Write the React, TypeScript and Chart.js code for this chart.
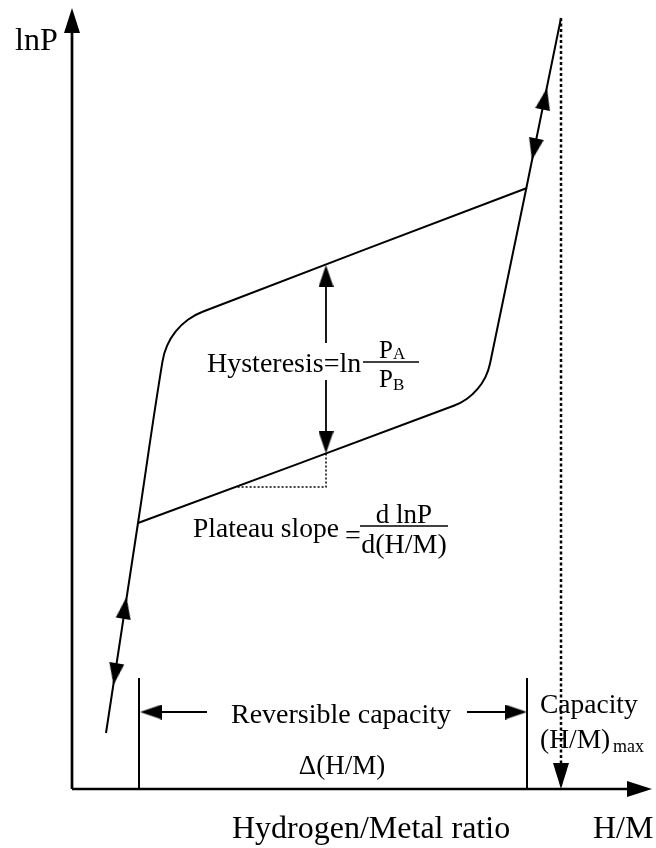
import React, { useEffect, useRef } from 'react';
import { Chart, registerables } from 'chart.js';

Chart.register(...registerables);

// ---- Data (H/M ratio on x, lnP on y, arbitrary schematic units) ----
// Absorption branch: alpha-phase rise, rounded knee, upper plateau
const absorptionHM = [0.068, 0.132, 0.1809, 0.1902, 0.2074, 0.2318, 0.2612, 0.91];
const absorptionLnP = [0.56, 2.66, 4.274, 4.434, 4.577, 4.693, 4.772, 6.01];
// Desorption branch: lower plateau, rounded knee, beta-phase rise
const desorptionHM = [0.132, 0.7634, 0.7894, 0.8108, 0.8268, 0.8362, 0.978];
const desorptionLnP = [2.66, 3.832, 3.9, 3.998, 4.119, 4.257, 7.71];

// Axes
const yAxisHM = [0, 0];
const yAxisLnP = [0, 7.62];
const xAxisHM = [0, 1.13];
const xAxisLnP = [0, 0];

// Hysteresis double arrow (between plateaus) and fraction bar
const hystHM = [0.508, 0.508];
const hystUpperLnP = [5.14, 4.46];
const hystLowerLnP = [4.09, 3.46];
const hystBarHM = [0.582, 0.694];
const hystBarLnP = [4.27, 4.27];

// Plateau slope triangle (dotted)
const slopeHM = [0.508, 0.508, 0.328];
const slopeLnP = [3.356, 3.02, 3.02];
const slopeBarHM = [0.576, 0.752];
const slopeBarLnP = [2.63, 2.63];

// Reversible capacity markers
const revLeftHM = [0.134, 0.134];
const revRightHM = [0.91, 0.91];
const revMarkLnP = [0, 1.11];
const revArrowLeftHM = [0.16, 0.27];
const revArrowRightHM = [0.79, 0.89];
const revArrowLnP = [0.77, 0.77];

// Maximum capacity dotted line
const capHM = [0.978, 0.978];
const capLnP = [7.71, 0.2];

// Arrow heads (tip position + direction, degrees clockwise from up)
const curveArrowHM = [0.95, 0.92, 0.109, 0.083, 0.508, 0.508, 0.136, 0.91];
const curveArrowLnP = [7.01, 6.29, 1.92, 1.04, 5.24, 3.356, 0.77, 0.77];
const curveArrowDir = [11.6, 191.6, 8.7, 188.7, 0, 180, 270, 90];
const axisArrowHM = [0, 1.16];
const axisArrowLnP = [7.81, 0];
const axisArrowDir = [0, 90];
const capArrowHM = [0.978];
const capArrowLnP = [0];
const capArrowDir = [180];

// Text annotations
const annotations = [
  { text: 'lnP', x: -0.114, y: 7.39, size: 32, align: 'left' },
  { text: 'Hysteresis=ln', x: 0.27, y: 4.17, size: 28, align: 'left' },
  { text: 'P', x: 0.614, y: 4.31, size: 25, align: 'left' },
  { text: 'A', x: 0.642, y: 4.3, size: 17, align: 'left' },
  { text: 'P', x: 0.614, y: 4.02, size: 25, align: 'left' },
  { text: 'B', x: 0.642, y: 3.99, size: 17, align: 'left' },
  { text: 'Plateau slope', x: 0.242, y: 2.52, size: 27.5, align: 'left' },
  { text: '=', x: 0.546, y: 2.45, size: 28, align: 'left' },
  { text: 'd lnP', x: 0.664, y: 2.66, size: 27, align: 'center' },
  { text: 'd(H/M)', x: 0.664, y: 2.36, size: 28, align: 'center' },
  { text: 'Reversible capacity', x: 0.538, y: 0.66, size: 28, align: 'center' },
  { text: '\u0394(H/M)', x: 0.54, y: 0.15, size: 27, align: 'center' },
  { text: 'Capacity', x: 0.936, y: 0.76, size: 27.5, align: 'left' },
  { text: '(H/M)', x: 0.936, y: 0.41, size: 27.5, align: 'left' },
  { text: 'max', x: 1.082, y: 0.37, size: 18, align: 'left' },
  { text: 'Hydrogen/Metal ratio', x: 0.32, y: -0.49, size: 32, align: 'left' },
  { text: 'H/M', x: 1.042, y: -0.49, size: 32, align: 'left' },
];

const FONT = '"Liberation Serif", "Times New Roman", serif';

const zip = (xs: number[], ys: number[]) => xs.map((x, i) => ({ x, y: ys[i] }));

const makeHead = (w: number, len: number) => {
  const c = document.createElement('canvas');
  c.width = w;
  c.height = len * 2;
  const g = c.getContext('2d')!;
  g.fillStyle = '#000';
  g.beginPath();
  g.moveTo(w / 2, len);
  g.lineTo(w, len * 2);
  g.lineTo(0, len * 2);
  g.closePath();
  g.fill();
  return c;
};

const lineDs = (data: { x: number; y: number }[], width: number, extra: any = {}) => ({
  data,
  showLine: true,
  borderColor: '#000',
  backgroundColor: '#000',
  borderWidth: width,
  pointRadius: 0,
  tension: 0,
  clip: false,
  fill: false,
  ...extra,
});

const headDs = (data: { x: number; y: number }[], dirs: number[], img: HTMLCanvasElement) => ({
  data,
  showLine: false,
  pointStyle: img,
  pointRotation: dirs,
  pointRadius: 1,
  borderWidth: 0,
  clip: false,
});

const textPlugin = {
  id: 'schematicText',
  afterDatasetsDraw(chart: any) {
    const { ctx, scales } = chart;
    ctx.save();
    ctx.fillStyle = '#000';
    ctx.textBaseline = 'alphabetic';
    for (const a of annotations) {
      ctx.font = `${a.size}px ${FONT}`;
      ctx.textAlign = a.align;
      ctx.fillText(a.text, scales.x.getPixelForValue(a.x), scales.y.getPixelForValue(a.y));
    }
    ctx.restore();
  },
};

export default function App() {
  const ref = useRef<HTMLCanvasElement | null>(null);

  useEffect(() => {
    if (!ref.current) return;
    const curveHead = makeHead(15, 22);
    const axisHead = makeHead(16, 25);
    const capHead = makeHead(16, 26);

    const chart = new Chart(ref.current, {
      type: 'scatter',
      data: {
        datasets: [
          headDs(zip(curveArrowHM, curveArrowLnP), curveArrowDir, curveHead),
          headDs(zip(axisArrowHM, axisArrowLnP), axisArrowDir, axisHead),
          headDs(zip(capArrowHM, capArrowLnP), capArrowDir, capHead),
          lineDs(zip(absorptionHM, absorptionLnP), 2, { tension: 0.4 }),
          lineDs(zip(desorptionHM, desorptionLnP), 2, { tension: 0.4 }),
          lineDs(zip(yAxisHM, yAxisLnP), 2.7),
          lineDs(zip(xAxisHM, xAxisLnP), 2.7),
          lineDs(zip(hystHM, hystUpperLnP), 1.8),
          lineDs(zip(hystHM, hystLowerLnP), 1.8),
          lineDs(zip(hystBarHM, hystBarLnP), 1.5),
          lineDs(zip(slopeHM, slopeLnP), 1.5, { borderDash: [2, 2] }),
          lineDs(zip(slopeBarHM, slopeBarLnP), 1.5),
          lineDs(zip(revLeftHM, revMarkLnP), 2),
          lineDs(zip(revRightHM, revMarkLnP), 2),
          lineDs(zip(revArrowLeftHM, revArrowLnP), 1.8),
          lineDs(zip(revArrowRightHM, revArrowLnP), 1.8),
          lineDs(zip(capHM, capLnP), 2.5, { borderDash: [3, 2.5] }),
        ],
      },
      options: {
        responsive: false,
        animation: false,
        events: [],
        layout: { padding: { left: 72, right: 4, top: 8, bottom: 59 } },
        scales: {
          x: { type: 'linear', min: 0, max: 1.16, display: false },
          y: { type: 'linear', min: 0, max: 7.81, display: false },
        },
        plugins: { legend: { display: false }, tooltip: { enabled: false } },
      },
      plugins: [textPlugin],
    } as any);
    return () => chart.destroy();
  }, []);

  return (
    <div style={{ position: 'absolute', left: 0, top: 0, width: 656, height: 848, background: '#fff' }}>
      <canvas ref={ref} width={656} height={848} style={{ display: 'block' }} />
    </div>
  );
}
